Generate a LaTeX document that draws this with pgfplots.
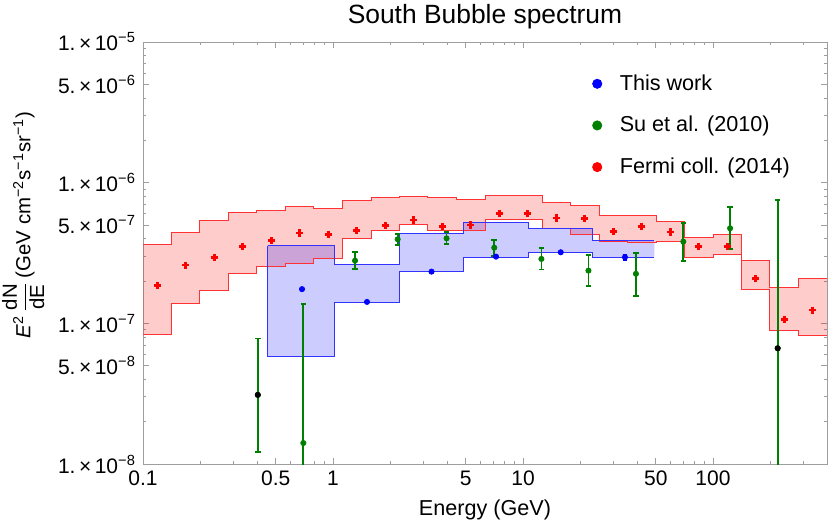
\documentclass[border=0pt]{standalone}
\usepackage{pgfplots}
\pgfplotsset{compat=1.18}
\usepackage{pgfplotstable}
\usepgfplotslibrary{fillbetween}
\usepackage{fontspec}
\setmainfont{Liberation Sans}

\definecolor{sugreen}{rgb}{0,0.5,0}
\definecolor{axgray}{rgb}{0.62,0.62,0.62}
\newcommand\yl[2]{#1.\,×\,10\textsuperscript{−#2}}

% Fermi band: left bin edge, upper, lower (last row = right end)
\pgfplotstableread{
E      hi       lo
0.1    3.65e-7  8.27e-8
0.1413 4.44e-7  1.373e-7
0.1995 5.37e-7  1.708e-7
0.2818 6.12e-7  2.27e-7
0.3981 6.29e-7  2.53e-7
0.5623 6.75e-7  2.67e-7
0.7943 6.50e-7  2.90e-7
1.122  7.53e-7  4.02e-7
1.585  7.87e-7  4.54e-7
2.239  7.95e-7  5.02e-7
3.162  7.82e-7  4.54e-7
4.467  7.62e-7  4.56e-7
6.310  8.08e-7  5.43e-7
8.913  8.08e-7  5.43e-7
12.59  7.26e-7  4.76e-7
17.78  6.91e-7  4.30e-7
25.12  5.80e-7  3.83e-7
35.48  5.87e-7  3.75e-7
50.12  5.28e-7  3.79e-7
70.79  4.06e-7  2.95e-7
100    4.27e-7  3.10e-7
141.3  2.79e-7  1.727e-7
199.5  1.805e-7 8.83e-8
281.8  2.07e-7  8.14e-8
398.1  2.07e-7  8.14e-8
}\fermiband

\pgfplotstableread{
E      y
0.1189 1.85e-7
0.1679 2.59e-7
0.2371 2.93e-7
0.3350 3.53e-7
0.4732 3.87e-7
0.6683 4.39e-7
0.9441 4.30e-7
1.334  4.56e-7
1.884  4.95e-7
2.661  5.43e-7
3.758  4.86e-7
5.309  5.00e-7
7.499  6.05e-7
10.59  6.05e-7
14.96  5.61e-7
21.13  5.55e-7
29.85  4.49e-7
42.17  4.86e-7
59.57  4.46e-7
84.14  3.51e-7
118.9  3.51e-7
167.9  2.08e-7
237.1  1.07e-7
335.0  1.24e-7
}\fermipts

\pgfplotstableread{
E      hi       lo
0.453  3.57e-7  5.80e-8
1.016  2.60e-7  1.413e-7
2.23   4.37e-7  2.32e-7
4.85   5.19e-7  2.95e-7
10.7   4.74e-7  3.18e-7
23.3   3.87e-7  2.95e-7
49.1   3.87e-7  2.95e-7
}\blueband

\pgfplotstableread{
E     y        ep       em
0.687 1.75e-7  0        0
1.51  1.42e-7  0        0
3.30  2.33e-7  0        0
7.21  2.98e-7  0        0
15.8  3.20e-7  0        0
34.4  2.95e-7  1.2e-8   1.2e-8
}\thiswork

\pgfplotstableread{
E     y        ep        em
0.402 3.1e-8   4.7e-8    1.88e-8
0.698 1.41e-8  1.239e-7  1.31e-8
1.306 2.79e-7  4.1e-8    3.6e-8
2.19  3.96e-7  3.4e-8    3.5e-8
3.96  4.02e-7  4.2e-8    3.7e-8
7.06  3.45e-7  4.7e-8    4.4e-8
12.5  2.87e-7  5.6e-8    4.6e-8
22.1  2.37e-7  6.9e-8    5.3e-8
39.3  2.25e-7  9.2e-8    6.8e-8
69.8  3.81e-7  1.34e-7   1.03e-7
123   4.74e-7  1.98e-7   1.38e-7
219   6.65e-8  6.835e-7  6.6e-8
}\su

\begin{document}
\begin{tikzpicture}
\begin{axis}[
    scale only axis,
    width=342pt, height=211pt,
    xmode=log, ymode=log,
    xmin=0.1, xmax=398.1,
    ymin=1e-8, ymax=1e-5,
    axis line style={axgray},
    tick style={axgray, line width=0.4pt},
    tick align=inside,
    major tick length=3pt,
    minor tick length=1.7pt,
    xtick={0.1,0.5,1,5,10,50,100},
    xticklabels={0.1,0.5,1,5,10,50,100},
    minor xtick={0.2,0.3,0.4,0.6,0.7,0.8,0.9,2,3,4,6,7,8,9,20,30,40,60,70,80,90,200,300},
    ytick={1e-8,5e-8,1e-7,5e-7,1e-6,5e-6,1e-5},
    yticklabels={\yl18,\yl58,\yl17,\yl57,\yl16,\yl56,\yl15},
    minor ytick={2e-8,3e-8,4e-8,6e-8,7e-8,8e-8,9e-8,2e-7,3e-7,4e-7,6e-7,7e-7,8e-7,9e-7,2e-6,3e-6,4e-6,6e-6,7e-6,8e-6,9e-6},
    tick label style={font=\fontsize{10.5}{12}\selectfont},
    xlabel={Energy (GeV)},
    ylabel={{\itshape E}\textsuperscript{2}\,$\displaystyle\frac{\mbox{dN}}{\mbox{dE}}$\,(GeV cm\textsuperscript{−2}s\textsuperscript{−1}sr\textsuperscript{−1})},
    label style={font=\fontsize{10.8}{13}\selectfont},
    ylabel style={at={(ticklabel cs:0.566)}, font=\fontsize{10.2}{12}\selectfont},
    title={South Bubble spectrum},
    title style={at={(0.5,1)}, anchor=base, yshift=3.5pt, font=\fontsize{13.2}{15}\selectfont},
    legend style={at={(0.648,0.943)}, anchor=north west, draw=none, fill=none,
        font=\fontsize{10.8}{13}\selectfont, row sep=7.5pt},
    legend cell align=left,
]
% Fermi band
\addplot[name path=fu, const plot mark left, red!80, line width=0.5pt, forget plot] table[x=E, y=hi] {\fermiband};
\addplot[name path=fl, const plot mark left, red!80, line width=0.5pt, forget plot] table[x=E, y=lo] {\fermiband};
\addplot[fill=red, fill opacity=0.2, draw=none, forget plot] fill between[of=fu and fl];
% This work band
\addplot[name path=bu, const plot mark left, blue!80, line width=0.5pt, forget plot] table[x=E, y=hi] {\blueband};
\addplot[name path=bl, const plot mark left, blue!80, line width=0.5pt, forget plot] table[x=E, y=lo] {\blueband};
\addplot[fill=blue, fill opacity=0.2, draw=none, forget plot] fill between[of=bu and bl];
\addplot[blue!80, line width=0.5pt, forget plot] coordinates {(0.453,3.57e-7) (0.453,5.80e-8)};
% Fermi points
\addplot[only marks, mark=+, mark size=1.8pt, red, line width=1.3pt, forget plot] table[x=E, y=y] {\fermipts};
% Su et al.
\addplot[only marks, mark=*, mark size=1.3pt, sugreen, forget plot,
    error bars/.cd, y dir=both, y explicit,
    error bar style={line width=0.9pt, sugreen},
    error mark options={sugreen, mark size=1.4pt, line width=0.9pt, rotate=90}]
    table[x=E, y=y, y error plus=ep, y error minus=em] {\su};
\addplot[only marks, mark=*, mark size=1.3pt, black, forget plot] coordinates {(0.402,3.1e-8) (219,6.65e-8)};
% This work points
\addplot[only marks, mark=*, mark size=1.3pt, blue, forget plot,
    error bars/.cd, y dir=both, y explicit,
    error bar style={line width=0.9pt, blue},
    error mark options={blue, mark size=1.2pt, line width=0.9pt, rotate=90}]
    table[x=E, y=y, y error plus=ep, y error minus=em] {\thiswork};
\addlegendimage{only marks, mark=*, mark size=2.3pt, blue}
\addlegendentry{\hspace{7pt}This work}
\addlegendimage{only marks, mark=*, mark size=2.3pt, sugreen}
\addlegendentry{\hspace{7pt}Su et al. (2010)}
\addlegendimage{only marks, mark=*, mark size=2.3pt, red}
\addlegendentry{\hspace{7pt}Fermi coll. (2014)}
\end{axis}
\pgfresetboundingbox
\path[use as bounding box] (-71.5pt,-30.5pt) rectangle (343.5pt,232pt);
\end{tikzpicture}
\end{document}
